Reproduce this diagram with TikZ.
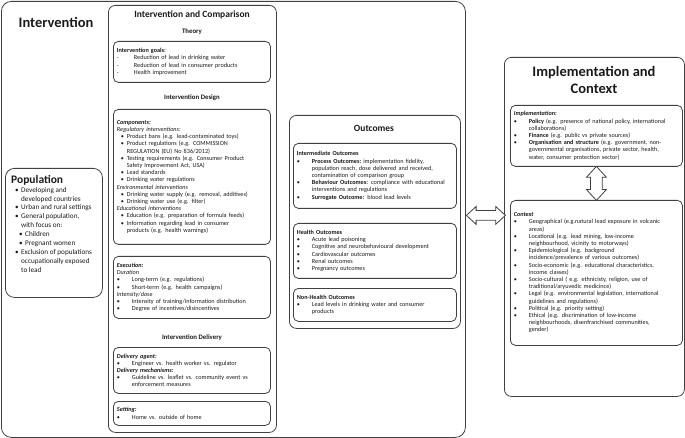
\documentclass[tikz,border=0pt]{standalone}
\usepackage{fontspec}
\setmainfont{Carlito}
\usetikzlibrary{shapes.arrows, positioning, calc}
\definecolor{lfLine}{HTML}{404040}
\definecolor{lfInk}{HTML}{1a1a1a}

% bullet lines: wide (marker at edge) and narrow (indented marker)
\newcommand{\bulw}[1]{\makebox[15pt][l]{\textbullet}#1}
\newcommand{\dashw}[1]{\makebox[17pt][l]{-}#1}
\newcommand{\contw}[1]{\hspace*{15pt}#1}
\newcommand{\buln}[1]{\hspace*{4pt}\makebox[6pt][l]{\textbullet}#1}
\newcommand{\contn}[1]{\hspace*{10pt}#1}

\begin{document}
\begin{tikzpicture}[x=1pt, y=-1pt, text=lfInk,
        frame/.style={draw=lfLine, line width=0.8pt, rounded corners=7pt, anchor=north west, inner sep=0pt},
        txtbox/.style={draw=lfLine, line width=0.8pt, rounded corners=5pt, anchor=north west, align=left, inner sep=3.5pt, font=\fontsize{6.2}{7.2}\selectfont},
        head/.style={font=\fontsize{6.8}{8}\selectfont\bfseries},
        dblarr/.style={draw=lfLine, line width=0.8pt, fill=white, shape=double arrow, inner sep=4.5pt, double arrow head extend=4pt, double arrow tip angle=85}]
  \useasboundingbox (0,0) rectangle (685,438);

  % Intervention
  \node[frame, rounded corners=10pt, minimum width=464pt, minimum height=436pt] (intv) at (1,1) {};
  \node[font=\fontsize{14.5}{17}\selectfont\bfseries] (intvT) at (56,22) {Intervention};

  \node[frame, minimum width=168pt, minimum height=427pt] (icomp) at (108,5) {};
  \node[font=\fontsize{9.5}{11}\selectfont\bfseries] (icompT) at (192,15) {Intervention and Comparison};
  \node[head] (theoryT) at (192,32) {Theory};
  \node[txtbox, text width=150pt, minimum height=41pt] (goals) at (113,41) {\textbf{Intervention goals:}\\
    \dashw{Reduction of lead in drinking water}\\
    \dashw{Reduction of lead in consumer products}\\
    \dashw{Health improvement}};
  \node[head] (designT) at (192,98) {Intervention Design};
  \node[txtbox, text width=150pt, minimum height=135pt] (comp) at (113,109) {\textbf{\textit{Components:}}\\
    \textit{Regulatory interventions:}\\
    \buln{Product bans (e.g. lead-contaminated toys)}\\
    \buln{Product regulations (e.g. COMMISSION}\\
    \contn{REGULATION (EU) No 836/2012)}\\
    \buln{Testing requirements (e.g. Consumer Product}\\
    \contn{Safety Improvement Act, USA)}\\
    \buln{Lead standards}\\
    \buln{Drinking water regulations}\\
    \textit{Environmental interventions}\\
    \buln{Drinking water supply (e.g. removal, additives)}\\
    \buln{Drinking water use (e.g. filter)}\\
    \textit{Educational interventions}\\
    \buln{Education (e.g. preparation of formula feeds)}\\
    \buln{Information regarding lead in consumer}\\
    \contn{products (e.g. health warnings)}};
  \node[txtbox, text width=150pt, minimum height=62pt] (exec) at (113,256) {\textbf{\textit{Execution:}}\\
    \textit{Duration}\\
    \bulw{Long-term (e.g. regulations)}\\
    \bulw{Short-term (e.g. health campaigns)}\\
    \textit{Intensity/dose}\\
    \bulw{Intensity of training/information distribution}\\
    \bulw{Degree of incentives/disincentives}};
  \node[head] (delivT) at (192,338) {Intervention Delivery};
  \node[txtbox, text width=150pt, minimum height=46pt] (deliv) at (113,347) {\textbf{\textit{Delivery agent:}}\\
    \bulw{Engineer vs. health worker vs. regulator}\\
    \textbf{\textit{Delivery mechanisms:}}\\
    \bulw{Guideline vs. leaflet vs. community event vs}\\
    \contw{enforcement measures}};
  \node[txtbox, text width=150pt, minimum height=24pt] (sett) at (113,401) {\textbf{\textit{Setting:}}\\
    \bulw{Home vs. outside of home}};

  % Population
  \node[frame, rounded corners=9pt, minimum width=97pt, minimum height=129pt] (popn) at (5,168) {};
  \node[anchor=north west, align=left, inner sep=0pt, font=\fontsize{7.2}{8.9}\selectfont] (popnT) at (11,175) {{\fontsize{11.5}{13}\selectfont\bfseries Population}\\
    \buln{Developing and}\\
    \contn{developed countries}\\
    \buln{Urban and rural settings}\\
    \buln{General population,}\\
    \contn{with focus on:}\\
    \hspace*{4pt}\buln{Children}\\
    \hspace*{4pt}\buln{Pregnant women}\\
    \buln{Exclusion of populations}\\
    \contn{occupationally exposed}\\
    \contn{to lead}};

  % Outcomes
  \node[frame, minimum width=171pt, minimum height=213pt] (outc) at (289,115) {};
  \node[font=\fontsize{9.5}{11}\selectfont\bfseries] (outcT) at (374,128) {Outcomes};
  \node[txtbox, text width=156pt, minimum height=65pt] (inter) at (293,143) {\textbf{Intermediate Outcomes}\\
    \bulw{\textbf{Process Outcomes:}\ implementation fidelity,}\\
    \contw{population reach, dose delivered and received,}\\
    \contw{contamination of comparison group}\\
    \bulw{\textbf{Behaviour Outcomes:} compliance with educational}\\
    \contw{interventions and regulations}\\
    \bulw{\textbf{Surrogate Outcome:} blood lead levels}};
  \node[txtbox, text width=156pt, minimum height=55pt] (health) at (293,223) {\textbf{Health Outcomes}\\
    \bulw{Acute lead poisoning}\\
    \bulw{Cognitive and neurobehavioural development}\\
    \bulw{Cardiovascular outcomes}\\
    \bulw{Renal outcomes}\\
    \bulw{Pregnancy outcomes}};
  \node[txtbox, text width=156pt, minimum height=33pt] (nonh) at (293,288) {\textbf{Non-Health Outcomes}\\
    \bulw{Lead levels in drinking water and consumer}\\
    \contw{products}};

  % Implementation and context
  \node[frame, minimum width=180pt, minimum height=339pt] (impl) at (504,57) {};
  \node[font=\fontsize{14.5}{17.5}\selectfont\bfseries, align=center] (implT) at (594,80) {Implementation and\\Context};
  \node[txtbox, text width=165pt, minimum height=61pt] (implm) at (510,105) {\textbf{\textit{Implementation:}}\\
    \bulw{\textbf{Policy} (e.g. presence of national policy, international}\\
    \contw{collaborations)}\\
    \bulw{\textbf{Finance} (e.g. public vs private sources)}\\
    \bulw{\textbf{Organisation and structure} (e.g. government, non-}\\
    \contw{governmental organisations, private sector, health,}\\
    \contw{water, consumer protection sector)}};
  \node[txtbox, text width=165pt, minimum height=145pt] (ctx) at (510,200) {\textbf{\textit{Context}}\\
    \bulw{Geographical (e.g.natural lead exposure in volcanic}\\
    \contw{areas)}\\
    \bulw{Locational (e.g. lead mining, low-income}\\
    \contw{neighbourhood, vicinity to motorways)}\\
    \bulw{Epidemiological (e.g. background}\\
    \contw{incidence/prevalence of various outcomes)}\\
    \bulw{Socio-economic (e.g. educational characteristics,}\\
    \contw{income classes)}\\
    \bulw{Socio-cultural ( e.g. ethnicisty, religion, use of}\\
    \contw{traditional/aryuvedic medicince)}\\
    \bulw{Legal (e.g. environmental legislation, international}\\
    \contw{guidelines and regulations)}\\
    \bulw{Political (e.g. priority setting)}\\
    \bulw{Ethical (e.g. discrimination of low-income}\\
    \contw{neighbourhoods, disenfranchised communities,}\\
    \contw{gender)}};

  % links
  \node[dblarr, anchor=west, minimum height=39pt, yshift=4pt] (linkH) at (intv.east) {};
  \node[dblarr, shape border rotate=90, inner sep=5.5pt, minimum height=34pt] (linkV) at ($(implm.south)!.5!(ctx.north)$) {};
\end{tikzpicture}
\end{document}
